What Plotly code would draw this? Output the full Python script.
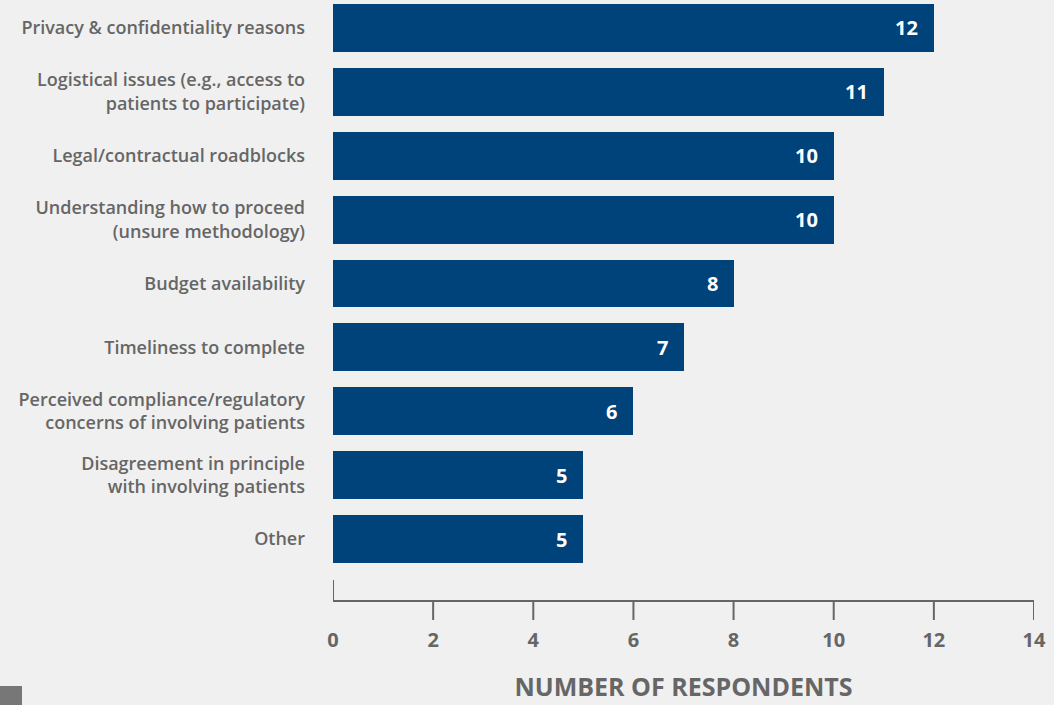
import plotly.graph_objects as go

# Survey: barriers to involving patients
categories = [
    "Privacy & confidentiality reasons",
    "Logistical issues (e.g., access to<br>patients to participate)",
    "Legal/contractual roadblocks",
    "Understanding how to proceed<br>(unsure methodology)",
    "Budget availability",
    "Timeliness to complete",
    "Perceived compliance/regulatory<br>concerns of involving patients",
    "Disagreement in principle<br>with involving patients",
    "Other",
]
respondents = [12, 11, 10, 10, 8, 7, 6, 5, 5]
x_ticks = [0, 2, 4, 6, 8, 10, 12, 14]

BAR = "#00427a"
GREY = "#666666"
BG = "#f0f0f0"
FONT = "Open Sans"

fig = go.Figure()
fig.add_trace(go.Bar(
    y=categories, x=respondents, orientation="h",
    marker=dict(color=BAR, line=dict(width=0)),
    width=0.75, hoverinfo="skip",
))

# value labels at the inner end of each bar
for cat, val in zip(categories, respondents):
    fig.add_annotation(
        x=val, y=cat, xref="x", yref="y", text=f"<b>{val}</b>",
        showarrow=False, xanchor="right", xshift=-14,
        font=dict(family=FONT, size=20, color="white"),
    )

# tick marks hanging below the axis line (none at the origin)
shapes = [
    dict(type="line", xref="x", yref="paper", ysizemode="pixel",
         yanchor=0, x0=v, x1=v, y0=0, y1=-20,
         line=dict(color=GREY, width=2))
    for v in x_ticks[1:]
]
# upright tick at the origin
shapes.append(dict(type="line", xref="x", yref="paper", ysizemode="pixel",
                   yanchor=0, x0=0, x1=0, y0=0, y1=20,
                   line=dict(color=GREY, width=2)))
# small grey marker in the lower-left corner
shapes.append(dict(type="rect", xref="paper", yref="paper", xsizemode="pixel",
                   ysizemode="pixel", xanchor=0, yanchor=0,
                   x0=-333, x1=-311, y0=-105, y1=-86,
                   fillcolor="#777777", line=dict(width=0)))

n = len(categories)
fig.update_layout(
    width=1054, height=705,
    margin=dict(l=333, r=20, t=0, b=105),
    paper_bgcolor=BG, plot_bgcolor=BG,
    showlegend=False,
    bargap=0,
    xaxis=dict(
        range=[0, 14], tickvals=x_ticks, ticks="",
        ticklabelstandoff=21,
        tickfont=dict(family=FONT, size=20, color=GREY, weight=700),
        showgrid=False, zeroline=False,
        showline=True, linecolor=GREY, linewidth=2,
        title=dict(text="NUMBER OF RESPONDENTS", standoff=26,
                   font=dict(family=FONT, size=25, color=GREY, weight=700)),
        fixedrange=True,
    ),
    yaxis=dict(
        categoryorder="array", categoryarray=categories,
        range=[n - 1 + 0.955, -0.438],
        ticks="", ticklabelstandoff=27,
        tickfont=dict(family=FONT, size=18, color=GREY, weight=600),
        showgrid=False, zeroline=False, showline=False,
    ),
    shapes=shapes,
)

fig.write_html("out.html")
